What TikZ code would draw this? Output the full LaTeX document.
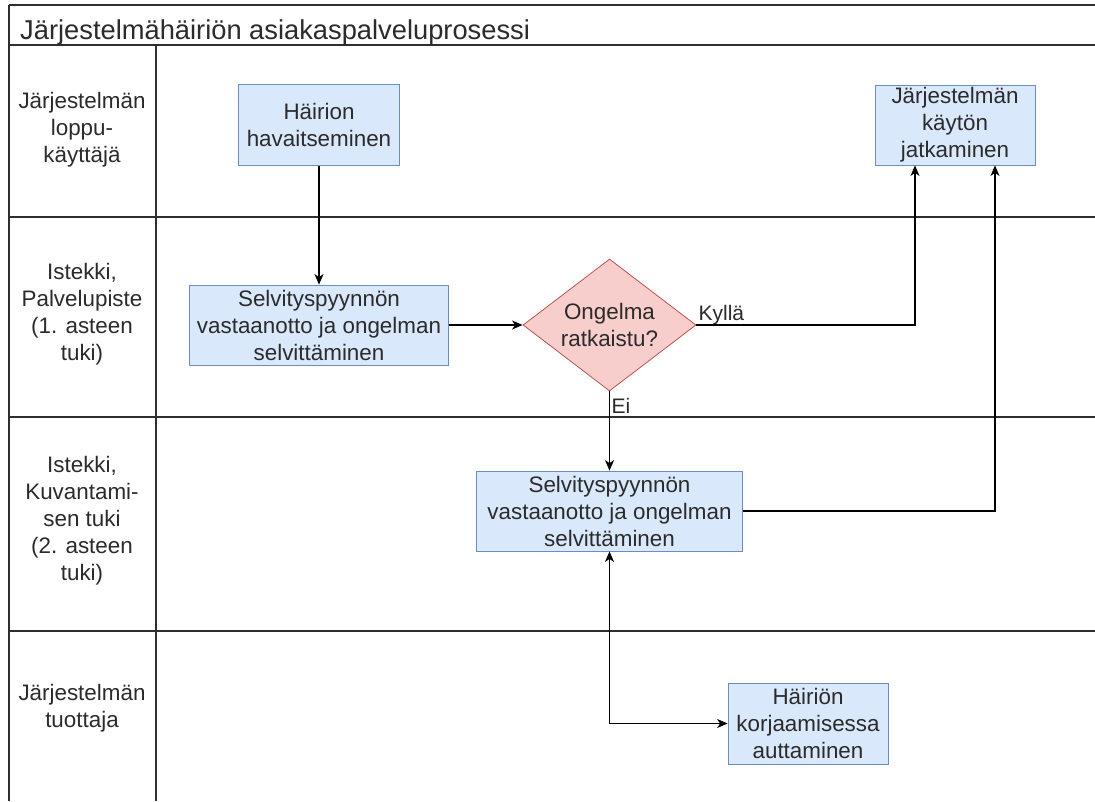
\documentclass[tikz,border=0pt]{standalone}
\usepackage{fontspec}
\setmainfont{Liberation Sans}
\usetikzlibrary{arrows.meta,shapes.geometric}
\definecolor{lanecol}{HTML}{2E2E2E}
\definecolor{txtcol}{HTML}{2B2B2B}
\definecolor{bluefill}{HTML}{DAE8FC}
\definecolor{blueline}{HTML}{6C8EBF}
\definecolor{redfill}{HTML}{F8CECC}
\definecolor{redline}{HTML}{B85450}
\tikzset{
  lane/.style={draw=lanecol, line width=1.6pt},
  txt/.style={text=txtcol, font=\fontsize{22.4}{27}\selectfont, align=center},
  lanelabel/.style={txt},
  task/.style={txt, draw=blueline, fill=bluefill, line width=0.8pt, inner sep=0pt},
  decision/.style={txt, shape=diamond, draw=redline, fill=redfill, line width=0.8pt,
    inner sep=0pt, minimum width=173pt, minimum height=132pt, aspect=1.31},
  edgelabel/.style={text=txtcol, font=\fontsize{21}{25}\selectfont, inner sep=0pt},
  tip/.style={},
  arr/.style={draw=black, line width=1.2pt, -{Stealth[length=10.5pt,width=9pt,inset=3pt]}},
  arrboth/.style={draw=black, line width=1.2pt,
    {Stealth[length=10.5pt,width=9pt,inset=3pt]}-{Stealth[length=10.5pt,width=9pt,inset=3pt]}}
}
\begin{document}
\begin{tikzpicture}[x=1pt,y=-1pt]
  \useasboundingbox (0,0) rectangle (1095,801);
  \fill[white] (0,0) rectangle (1095,801);

  % pool frame and swimlanes
  \draw[lane] (9,5) -- (1095,5);
  \draw[lane] (9,45) -- (1095,45);
  \draw[lane] (9,5) -- (9,801);
  \draw[lane] (156,45) -- (156,801);
  \draw[lane] (9,217) -- (1095,217);
  \draw[lane] (9,417) -- (1095,417);
  \draw[lane] (9,631) -- (1095,631);

  % title
  \node[text=txtcol, font=\fontsize{27.3}{32}\selectfont, anchor=base west, inner sep=0pt]
    (title) at (20,39) {Järjestelmähäiriön asiakaspalveluprosessi};

  % lane labels
  \node[lanelabel] (l1) at (82,130) {Järjestelmän\\loppu-\\käyttäjä};
  \node[lanelabel] (l2) at (82,314) {Istekki,\\Palvelupiste\\(1. asteen\\tuki)};
  \node[lanelabel] (l3) at (82,521) {Istekki,\\Kuvantami-\\sen tuki\\(2. asteen\\tuki)};
  \node[lanelabel] (l4) at (82,708) {Järjestelmän\\tuottaja};

  % process steps
  \node[task, minimum width=161pt, minimum height=81pt] (b1) at (319,125) {Häirion\\havaitseminen};
  \node[task, minimum width=259pt, minimum height=80pt] (b2) at (319,325) {Selvityspyynnön\\vastaanotto ja ongelman\\selvittäminen};
  \node[decision] (dia) at (609.5,325) {Ongelma\\ratkaistu?};
  \node[task, minimum width=160pt, minimum height=80pt] (b3) at (955,125) {Järjestelmän\\käytön\\jatkaminen};
  \node[task, minimum width=266pt, minimum height=80pt] (b4) at (609.5,511) {Selvityspyynnön\\vastaanotto ja ongelman\\selvittäminen};
  \node[task, minimum width=160pt, minimum height=81pt] (b5) at (808,723.5) {Häiriön\\korjaamisessa\\auttaminen};

  \coordinate (b3in1) at ([xshift=-40pt]b3.south);
  \coordinate (b3in2) at ([xshift=40pt]b3.south);

  % flow
  \draw[arr] (b1.south) -- (b2.north);
  \draw[arr] (b2.east) -- (dia.west);
  \draw[arr] (dia.east) -| (b3in1);
  \draw[arr] (dia.south) -- (b4.north);
  \draw[arr] (b4.east) -| (b3in2);
  \draw[arrboth] (b4.south) |- (b5.west);

  % branch labels
  \node[edgelabel, anchor=base west] (yes) at ([xshift=2pt,yshift=5pt]dia.east) {Kyllä};
  \node[edgelabel, anchor=base west] (no) at ([xshift=2pt,yshift=-22pt]dia.south) {Ei};
\end{tikzpicture}
\end{document}
